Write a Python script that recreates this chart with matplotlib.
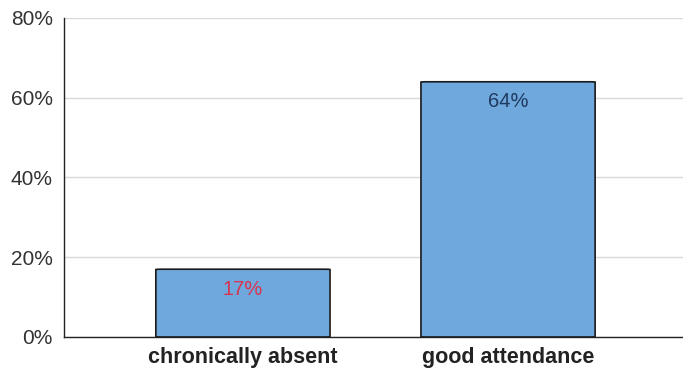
import matplotlib
matplotlib.use("Agg")
import matplotlib.pyplot as plt
from matplotlib.patches import FancyBboxPatch
from matplotlib.ticker import FuncFormatter

categories = ["chronically absent", "good attendance"]
values = [17, 64]
label_colors = ["#d9334f", "#1f3a5f"]
yticks = [0, 20, 40, 60, 80]

plt.rcParams["font.family"] = ["Liberation Sans", "DejaVu Sans"]

fig = plt.figure(figsize=(6.83, 3.70), dpi=100)
ax = fig.add_axes([0.0937, 0.0892, 0.9063, 0.8622])

x = list(range(len(categories)))
bars = ax.bar(x, values, width=0.657, color="#6fa8dc", edgecolor="#1a1a1a",
              linewidth=1.2, zorder=3)

# swap square bars for ones with slightly rounded corners
for b in bars:
    b.set_visible(False)
    p = FancyBboxPatch((b.get_x(), b.get_y()), b.get_width(), b.get_height(),
                       boxstyle="round,pad=0,rounding_size=0.02",
                       mutation_aspect=(80 / 2.325) * 0.12,
                       facecolor="#6fa8dc", edgecolor="#1a1a1a",
                       linewidth=1.2, zorder=3)
    ax.add_patch(p)

for xi, v, c in zip(x, values, label_colors):
    ax.annotate(f"{v}%", (xi, v), xytext=(0, -20), textcoords="offset pixels",
                ha="center", va="center", fontsize=14.5, color=c, zorder=4)

ax.set_xlim(-0.675, 1.66)
ax.set_ylim(0, 80)
ax.set_yticks(yticks)
ax.yaxis.set_major_formatter(FuncFormatter(lambda v, _: f"{v:.0f}%"))
ax.set_xticks(x)
ax.set_xticklabels(categories, fontweight="bold", fontsize=15.5, color="#222222")
ax.tick_params(axis="y", labelsize=15, labelcolor="#333333", length=0, pad=8)
ax.tick_params(axis="x", length=0, pad=7)
ax.grid(axis="y", color="#d9d9d9", linewidth=1.0, zorder=0)
ax.set_axisbelow(True)
for s in ["top", "right"]:
    ax.spines[s].set_visible(False)
ax.spines["left"].set_color("#222222")
ax.spines["bottom"].set_color("#222222")
ax.spines["left"].set_linewidth(1.0)
ax.spines["bottom"].set_linewidth(1.0)

fig.savefig("out.png", dpi=100)
